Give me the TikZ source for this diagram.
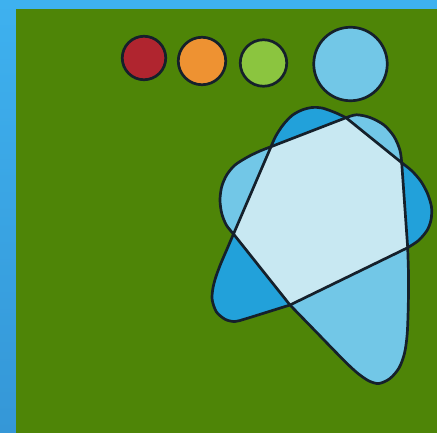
\documentclass[tikz,border=0pt]{standalone}
\usetikzlibrary{calc}
\definecolor{bgtop}{HTML}{3EB1EF}
\definecolor{bgbot}{HTML}{3597D7}
\definecolor{field}{HTML}{4E8507}
\definecolor{ol}{HTML}{15202B}
\definecolor{dkblue}{HTML}{22A1DA}
\definecolor{ltblue}{HTML}{72C7E7}
\definecolor{paleblue}{HTML}{C8E8F2}
\definecolor{dotred}{HTML}{B0252F}
\definecolor{dotorange}{HTML}{EE9232}
\definecolor{dotgreen}{HTML}{8BC53F}
\tikzset{
  outline/.style={draw=ol, line width=2.7pt, line join=round},
  dot/.style={outline}
}
\newcommand\shapeApath[1]{%
  \path[#1] (U1)
    -- plot[smooth] coordinates {(271,146.7) (275.8,136) (283,125) (292,115.5) (302,110) (312,107.5) (322,108) (335,112.5) (346,117.7)}
    -- (UR)
    -- plot[smooth] coordinates {(401.7,162.7) (412,171) (421,181.5) (427.5,193.5) (431.5,207) (431,220) (427,230.5) (418.5,240.5) (407.7,247.7)}
    -- (Bt)
    -- plot[smooth] coordinates {(290,305) (266,312.5) (245,319) (235,321.5) (225.5,319.5) (216.5,312) (212.2,300) (212.8,289) (215.5,278) (220.5,264.3) (226.4,250.5) (233.5,234)}
    -- cycle;}
\newcommand\shapeBpath[1]{%
  \path[#1] (U1) -- (T)
    -- plot[smooth] coordinates {(346,117.7) (356.5,114.8) (370,117.5) (384,125) (394,136.5) (399.9,150) (401.7,162.7)}
    -- (LR)
    -- plot[smooth] coordinates {(407.7,247.7) (408.5,275) (408.3,305) (407.2,334) (404.5,353.3) (399,368) (390,378.5) (379,383.5) (369,381) (358,373.5) (347,363.5) (333,349.3) (318,333.8) (304,319.4) (290,305)}
    -- (L)
    -- plot[smooth] coordinates {(233.5,234) (226.3,225) (221.7,213.3) (220,200) (221.7,186.7) (226.7,175) (235,165) (248,156.8) (260,151) (271,146.7)}
    -- cycle;}
\begin{document}
\begin{tikzpicture}[x=1pt,y=-1pt]
  % background
  \shade[top color=bgtop, bottom color=bgbot] (0,0) rectangle (437,433);
  \useasboundingbox (0,0) rectangle (437,433);
  \fill[field] (16,9) rectangle (437,433);

  % dots
  \node[dot, fill=dotred, circle, minimum size=43.5pt, inner sep=0pt] (red) at (144,58) {};
  \node[dot, fill=dotorange, circle, minimum size=47.5pt, inner sep=0pt] (orange) at (202,61) {};
  \node[dot, fill=dotgreen, circle, minimum size=46.5pt, inner sep=0pt] (green) at (263.5,63) {};
  \node[dot, fill=ltblue, circle, minimum size=73.5pt, inner sep=0pt] (head) at (350.5,64) {};

  % hexagon vertices
  \coordinate (U1) at (271,146.7);
  \coordinate (T)  at (346,117.7);
  \coordinate (UR) at (401.7,162.7);
  \coordinate (LR) at (407.7,247.7);
  \coordinate (Bt) at (290,305);
  \coordinate (L)  at (233.5,234);

  % fills
  \shapeApath{fill=dkblue}
  \shapeBpath{fill=ltblue}
  \fill[paleblue] (U1) -- (T) -- (UR) -- (LR) -- (Bt) -- (L) -- cycle;

  % outlines
  \shapeApath{outline}
  \shapeBpath{outline}
\end{tikzpicture}
\end{document}
